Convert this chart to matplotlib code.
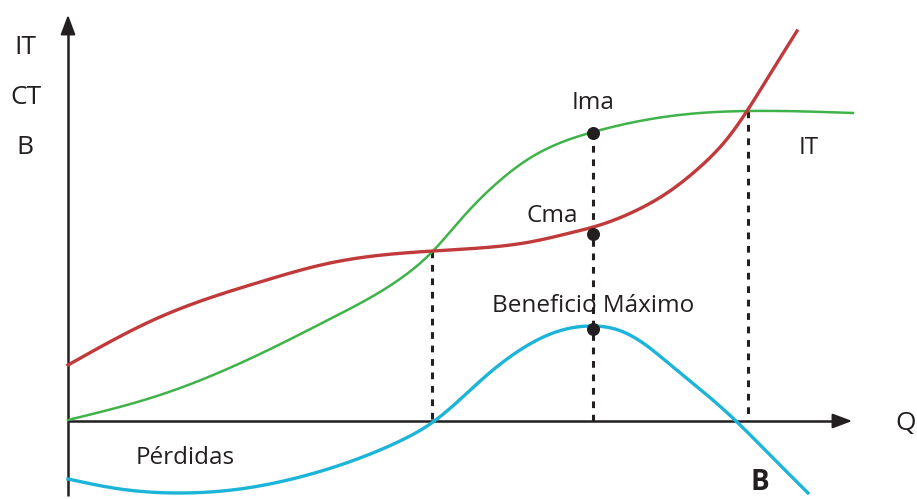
import numpy as np
import matplotlib.pyplot as plt

# coordinates: x to the right of the origin, y above the Q axis (picture units)
it_x = [0, 92, 192, 262, 329, 365, 395, 429, 462, 525, 589, 632, 679, 785]
it_y = [1, 26, 67, 102, 140, 170, 204, 238, 263, 289, 303, 308, 310, 308]

ct_x = [0, 92, 192, 262, 365, 412, 462, 502, 532, 565, 599, 632, 659, 679, 704, 729]
ct_y = [56, 104, 139, 158, 170, 173, 179, 188, 196, 209, 228, 254, 282, 310, 350, 390]

b_x = [0, 52, 112, 172, 232, 292, 332, 365, 419, 452, 485, 525, 547, 572, 605, 639, 669, 705, 740]
b_y = [-58, -68, -72, -68, -56, -37, -20, -1, 46, 71, 88, 95, 92, 80, 54, 26, -1, -37, -72]

q_opt = 525
dots_y = [288, 187, 92]
drops_x = [364, 525, 680]
drops_top = [170, 289, 310]

green = '#3fb34a'
red = '#c0393b'
cyan = '#1cb4d8'
ink = '#231f20'

plt.rcParams['font.family'] = ['Open Sans', 'DejaVu Sans']

fig = plt.figure(figsize=(9.17, 4.99), dpi=100)
ax = fig.add_axes([0, 0, 1, 1])
ax.set_xlim(-68, 917 - 68)
ax.set_ylim(421 - 499, 421)
ax.axis('off')


def spline(xs, ys, n=400):
    # natural cubic spline through the read points
    x = np.asarray(xs, float)
    y = np.asarray(ys, float)
    k = len(x)
    h = np.diff(x)
    A = np.zeros((k, k))
    r = np.zeros(k)
    A[0, 0] = A[-1, -1] = 1
    for i in range(1, k - 1):
        A[i, i - 1] = h[i - 1]
        A[i, i] = 2 * (h[i - 1] + h[i])
        A[i, i + 1] = h[i]
        r[i] = 6 * ((y[i + 1] - y[i]) / h[i] - (y[i] - y[i - 1]) / h[i - 1])
    m = np.linalg.solve(A, r)
    xx = np.linspace(x[0], x[-1], n)
    j = np.clip(np.searchsorted(x, xx) - 1, 0, k - 2)
    t0 = x[j + 1] - xx
    t1 = xx - x[j]
    hj = h[j]
    yy = (m[j] * t0 ** 3 + m[j + 1] * t1 ** 3) / (6 * hj) \
        + (y[j] / hj - m[j] * hj / 6) * t0 + (y[j + 1] / hj - m[j + 1] * hj / 6) * t1
    return xx, yy


# axes with arrow heads
ax.plot([0, 0], [-75, 395], color=ink, lw=1.8, solid_capstyle='butt')
ax.plot([0, 772], [0, 0], color=ink, lw=1.8, solid_capstyle='butt')
ax.annotate('', xy=(0, 409), xytext=(0, 390),
            arrowprops=dict(arrowstyle='-|>,head_length=1.2,head_width=0.45',
                            color=ink, lw=1.5))
ax.annotate('', xy=(787, 0), xytext=(767, 0),
            arrowprops=dict(arrowstyle='-|>,head_length=1.2,head_width=0.45',
                            color=ink, lw=1.5))

# dashed drop lines
for qx, top in zip(drops_x, drops_top):
    ax.plot([qx, qx], [top, 0], color=ink, lw=2.2, linestyle=(0, (2.2, 2.2)))

x, y = spline(it_x, it_y)
ax.plot(x, y, color=green, lw=1.8)
x, y = spline(ct_x, ct_y)
ax.plot(x, y, color=red, lw=2.4)
x, y = spline(b_x, b_y)
ax.plot(x, y, color=cyan, lw=2.4)

ax.scatter([q_opt] * 3, dots_y, s=70, color=ink, zorder=5)

ax.text(-43, 374, 'IT', fontsize=19, color=ink, ha='center', va='center')
ax.text(-42, 324, 'CT', fontsize=19, color=ink, ha='center', va='center')
ax.text(-43, 274, 'B', fontsize=19, color=ink, ha='center', va='center')
ax.text(525, 318, 'Ima', fontsize=17.5, color=ink, ha='center', va='center')
ax.text(484, 205, 'Cma', fontsize=17.5, color=ink, ha='center', va='center')
ax.text(525, 115, 'Beneficio Máximo', fontsize=17.5, color=ink, ha='center', va='center')
ax.text(741, 273, 'IT', fontsize=17.5, color=ink, ha='center', va='center')
ax.text(838, -2, 'Q', fontsize=19, color=ink, ha='center', va='center')
ax.text(117, -37, 'Pérdidas', fontsize=17.5, color=ink, ha='center', va='center')
ax.text(692, -61, 'B', fontsize=20, color=ink, ha='center', va='center', fontweight='bold')

fig.savefig('out.png', dpi=100)
